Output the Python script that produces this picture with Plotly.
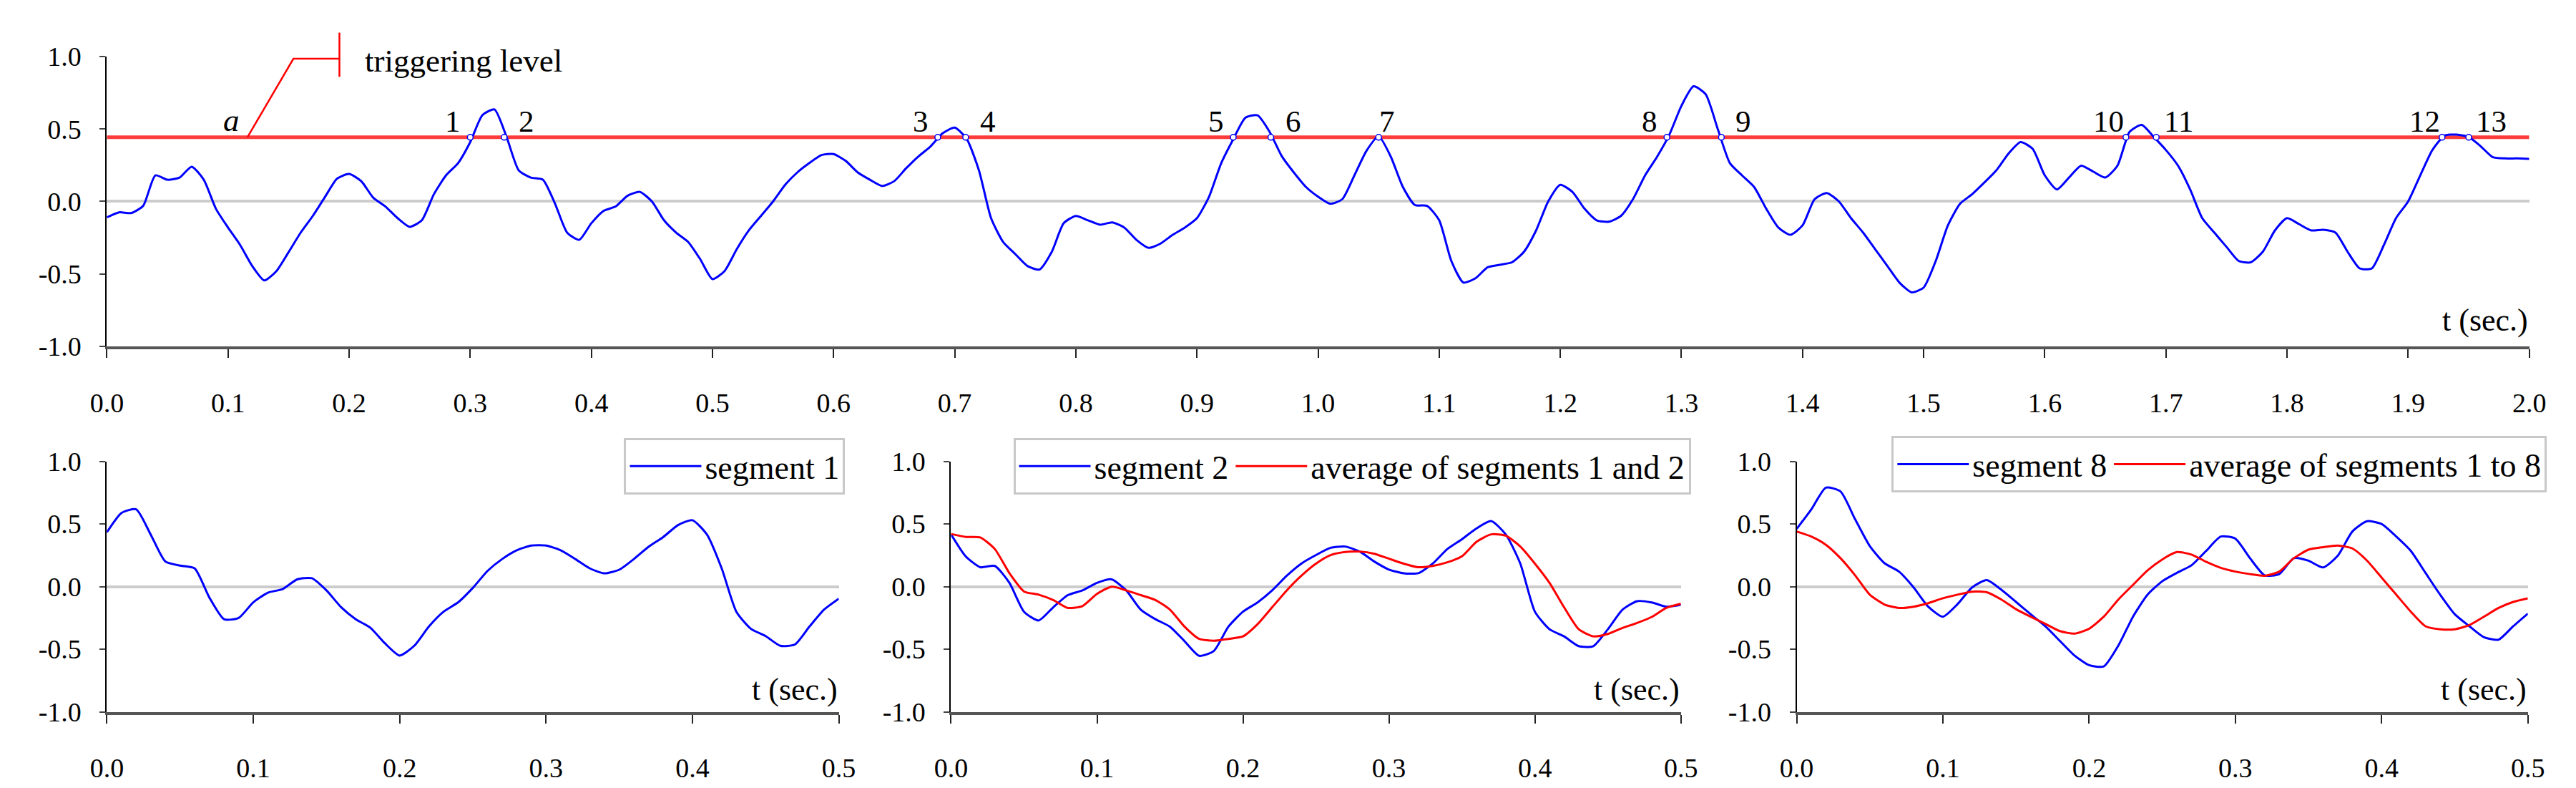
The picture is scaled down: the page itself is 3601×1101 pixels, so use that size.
import plotly.graph_objects as go

# ---- data ----
t_main = [round(i * 0.01, 2) for i in range(201)]
signal = [
    -0.11, -0.075, -0.08, -0.03, 0.18, 0.15, 0.165, 0.24, 0.15, -0.05,
    -0.18, -0.30, -0.445, -0.545, -0.48, -0.35, -0.215, -0.10, 0.03, 0.157,
    0.19, 0.14, 0.025, -0.035, -0.115, -0.175, -0.13, 0.05, 0.18, 0.265,
    0.41, 0.595, 0.635, 0.445, 0.215, 0.165, 0.15, -0.015, -0.215, -0.265,
    -0.15, -0.065, -0.035, 0.04, 0.066, 0.0, -0.13, -0.215, -0.28, -0.40,
    -0.536, -0.48, -0.33, -0.20, -0.10, 0.0, 0.115, 0.20, 0.265, 0.32,
    0.327, 0.28, 0.20, 0.15, 0.107, 0.14, 0.23, 0.31, 0.38, 0.47,
    0.51, 0.43, 0.215, -0.115, -0.28, -0.363, -0.445, -0.47, -0.35, -0.15,
    -0.10, -0.13, -0.16, -0.145, -0.18, -0.265, -0.32, -0.29, -0.23, -0.18,
    -0.115, 0.033, 0.264, 0.43, 0.578, 0.594, 0.48, 0.313, 0.20, 0.10,
    0.033, -0.016, 0.016, 0.18, 0.35, 0.45, 0.31, 0.10, -0.025, -0.03,
    -0.13, -0.41, -0.56, -0.53, -0.454, -0.437, -0.42, -0.347, -0.20, 0.0,
    0.115, 0.066, -0.05, -0.13, -0.14, -0.10, 0.016, 0.18, 0.31, 0.46,
    0.66, 0.795, 0.74, 0.50, 0.265, 0.18, 0.10, -0.05, -0.18, -0.23,
    -0.165, 0.016, 0.058, 0.0, -0.115, -0.215, -0.33, -0.445, -0.56, -0.627,
    -0.594, -0.41, -0.165, -0.016, 0.05, 0.13, 0.215, 0.33, 0.41, 0.363,
    0.18, 0.083, 0.165, 0.247, 0.206, 0.165, 0.247, 0.48, 0.528, 0.445,
    0.355, 0.247, 0.083, -0.115, -0.215, -0.313, -0.41, -0.42, -0.347, -0.20,
    -0.115, -0.157, -0.20, -0.195, -0.215, -0.347, -0.462, -0.462, -0.30, -0.115,
    0.0, 0.18, 0.355, 0.454, 0.462, 0.445, 0.38, 0.305, 0.297, 0.297,
    0.294,
]
trigger_level = 0.443
cross_t = [0.300, 0.328, 0.686, 0.709, 0.930, 0.961, 1.050,
           1.288, 1.333, 1.667, 1.692, 1.928, 1.950]
cross_labels = [str(i) for i in range(1, 14)]
cross_dir = ['up', 'down', 'up', 'down', 'up', 'down', 'peak',
             'up', 'down', 'up', 'down', 'up', 'down']

t_seg = [round(i * 0.01, 2) for i in range(51)]
segment1 = [
    0.434, 0.588, 0.617, 0.414, 0.20, 0.168, 0.145, -0.087, -0.26, -0.25,
    -0.125, -0.048, -0.02, 0.058, 0.067, -0.03, -0.164, -0.26, -0.328, -0.453,
    -0.55, -0.472, -0.318, -0.20, -0.125, -0.01, 0.125, 0.22, 0.29, 0.328,
    0.328, 0.29, 0.22, 0.145, 0.106, 0.135, 0.22, 0.318, 0.395, 0.49,
    0.53, 0.414, 0.145, -0.20, -0.337, -0.395, -0.472, -0.462, -0.318, -0.183,
    -0.096,
]
segment2 = [
    0.417, 0.242, 0.155, 0.165, 0.03, -0.20, -0.27, -0.165, -0.068, -0.03,
    0.03, 0.058, -0.03, -0.184, -0.26, -0.32, -0.436, -0.552, -0.514, -0.32,
    -0.20, -0.126, -0.03, 0.087, 0.184, 0.252, 0.31, 0.32, 0.28, 0.20,
    0.136, 0.107, 0.107, 0.184, 0.30, 0.378, 0.465, 0.523, 0.417, 0.184,
    -0.20, -0.34, -0.397, -0.475, -0.475, -0.34, -0.184, -0.116, -0.126, -0.16,
    -0.145,
]
avg_1_2 = [
    0.42, 0.397, 0.393, 0.30, 0.107, -0.039, -0.064, -0.107, -0.17, -0.155,
    -0.058, 0.0, -0.03, -0.068, -0.107, -0.184, -0.32, -0.417, -0.432, -0.417,
    -0.397, -0.30, -0.165, -0.03, 0.087, 0.184, 0.252, 0.277, 0.28, 0.262,
    0.223, 0.184, 0.155, 0.165, 0.194, 0.242, 0.358, 0.417, 0.407, 0.32,
    0.184, 0.03, -0.165, -0.34, -0.397, -0.378, -0.33, -0.29, -0.242, -0.17,
    -0.136,
]
segment8 = [
    0.46, 0.615, 0.79, 0.76, 0.538, 0.324, 0.188, 0.12, -0.006, -0.16,
    -0.24, -0.14, -0.006, 0.052, -0.025, -0.122, -0.22, -0.316, -0.433, -0.55,
    -0.627, -0.637, -0.47, -0.24, -0.064, 0.043, 0.11, 0.17, 0.285, 0.40,
    0.383, 0.227, 0.09, 0.10, 0.227, 0.207, 0.153, 0.246, 0.44, 0.522,
    0.50, 0.40, 0.285, 0.11, -0.064, -0.22, -0.316, -0.404, -0.423, -0.316,
    -0.215,
]
avg_1_8 = [
    0.44, 0.40, 0.334, 0.227, 0.09, -0.064, -0.142, -0.17, -0.16, -0.132,
    -0.093, -0.064, -0.04, -0.045, -0.103, -0.18, -0.24, -0.297, -0.355, -0.375,
    -0.336, -0.24, -0.103, 0.014, 0.13, 0.217, 0.276, 0.256, 0.198, 0.15,
    0.12, 0.10, 0.087, 0.12, 0.227, 0.295, 0.315, 0.328, 0.305, 0.208,
    0.072, -0.064, -0.20, -0.316, -0.34, -0.34, -0.307, -0.24, -0.17, -0.122,
    -0.093,
]

y_ticks = [-1.0, -0.5, 0.0, 0.5, 1.0]
y_ticktext = ['-1.0', '-0.5', '0.0', '0.5', '1.0']
x_ticks_main = [round(i * 0.1, 1) for i in range(21)]
x_ticks_seg = [round(i * 0.1, 1) for i in range(6)]

# ---- layout geometry (pixels of a 3601 x 1101 page) ----
W, H = 3601, 1101
FONT = '"Liberation Serif", "Times New Roman", Tinos, "DejaVu Serif", serif'
BLUE = '#0000ff'
RED = '#ff0000'


def xdom(a, b):
    return [a / W, b / W]


def ydom(top, bottom):
    return [1 - bottom / H, 1 - top / H]


dom_top = (xdom(119, 3551), ydom(52, 473))
dom_b = [
    (xdom(119, 1156), ydom(640, 1004)),
    (xdom(1315, 2349), ydom(640, 1004)),
    (xdom(2513, 3549), ydom(640, 1004)),
]

fig = go.Figure()

fig.add_trace(go.Scatter(
    x=[0, 2], y=[trigger_level, trigger_level], mode='lines',
    line=dict(color='#ff3b3b', width=5), showlegend=False,
    xaxis='x', yaxis='y', hoverinfo='skip'))
fig.add_trace(go.Scatter(
    x=t_main, y=signal, mode='lines',
    line=dict(color=BLUE, width=3, shape='spline', smoothing=0.6),
    showlegend=False, xaxis='x', yaxis='y'))
fig.add_trace(go.Scatter(
    x=cross_t, y=[trigger_level] * len(cross_t), mode='markers',
    marker=dict(symbol='circle', size=8, color='white',
                line=dict(color=BLUE, width=1.5)),
    showlegend=False, xaxis='x', yaxis='y'))

bottom_series = [
    [('segment 1', segment1, BLUE)],
    [('segment 2', segment2, BLUE), ('average of segments 1 and 2', avg_1_2, RED)],
    [('segment 8', segment8, BLUE), ('average of segments 1 to 8', avg_1_8, RED)],
]
legend_ids = ['legend', 'legend2', 'legend3']
for k, series in enumerate(bottom_series):
    for name, vals, col in series:
        fig.add_trace(go.Scatter(
            x=t_seg, y=vals, mode='lines', name=name,
            line=dict(color=col, width=3, shape='spline', smoothing=0.6),
            xaxis='x%d' % (k + 2), yaxis='y%d' % (k + 2),
            legend=legend_ids[k]))

tickfont = dict(family=FONT, size=38, color='black')
xcommon = dict(showgrid=False, zeroline=False, showline=True,
               linecolor='#555555', linewidth=4, ticks='outside',
               ticklen=12, tickwidth=2, tickcolor='#222222',
               tickfont=tickfont, ticklabelstandoff=30)
ycommon = dict(showgrid=False, zeroline=True, zerolinecolor='#cccccc',
               zerolinewidth=4, showline=True, linecolor='black',
               linewidth=2, ticks='outside', ticklen=8, tickwidth=2,
               tickcolor='#444444', tickfont=tickfont,
               ticklabelstandoff=18, range=[-1, 1],
               tickvals=y_ticks, ticktext=y_ticktext)

layout = dict(
    width=W, height=H, margin=dict(l=0, r=0, t=0, b=0),
    plot_bgcolor='white', paper_bgcolor='white',
    font=dict(family=FONT, color='black'),
    xaxis=dict(domain=dom_top[0], range=[0, 2], anchor='y',
               tickvals=x_ticks_main,
               ticktext=['%.1f' % v for v in x_ticks_main], **xcommon),
    yaxis=dict(domain=dom_top[1], anchor='x', **ycommon),
)
for k, (dx, dy) in enumerate(dom_b):
    layout['xaxis%d' % (k + 2)] = dict(
        domain=dx, range=[0, 0.5], anchor='y%d' % (k + 2),
        tickvals=x_ticks_seg,
        ticktext=['%.1f' % v for v in x_ticks_seg], **xcommon)
    layout['yaxis%d' % (k + 2)] = dict(
        domain=dy, anchor='x%d' % (k + 2), **ycommon)

legend_pos = [(1165, 606), (2363, 606), (3576, 603)]
for k, (rx, ty) in enumerate(legend_pos):
    layout[legend_ids[k]] = dict(
        x=rx / W, y=1 - ty / H, xanchor='right', yanchor='top',
        orientation='h', bgcolor='white', bordercolor='#c8c8c8',
        borderwidth=3, font=dict(family=FONT, size=46, color='black'),
        itemwidth=100, tracegroupgap=0)
fig.update_layout(**layout)


def to_paper(x, y):
    (x0, x1), (y0, y1) = dom_top
    return x0 + x / 2 * (x1 - x0), y0 + (y + 1) / 2 * (y1 - y0)


# callout for the triggering level
p1 = to_paper(0.116, trigger_level)
p2 = to_paper(0.154, 0.985)
p3 = to_paper(0.192, 0.985)
q1 = to_paper(0.192, 1.165)
q2 = to_paper(0.192, 0.86)
fig.add_shape(type='path', xref='paper', yref='paper',
              path='M %f,%f L %f,%f L %f,%f' % (p1 + p2 + p3),
              line=dict(color=RED, width=2.5))
fig.add_shape(type='line', xref='paper', yref='paper',
              x0=q1[0], y0=q1[1], x1=q2[0], y1=q2[1],
              line=dict(color=RED, width=2.5))
fig.add_annotation(x=0.2115, y=0.97, xref='x', yref='y', text='triggering level',
                   showarrow=False, xanchor='left', yanchor='middle',
                   font=dict(family=FONT, size=45))
fig.add_annotation(x=0.1026, y=0.56, xref='x', yref='y', text='<i>a</i>',
                   showarrow=False, xanchor='center', yanchor='middle',
                   font=dict(family=FONT, size=45))

shift = {'up': -24, 'down': 31, 'peak': 12}
for tc, lab, d in zip(cross_t, cross_labels, cross_dir):
    fig.add_annotation(x=tc, y=0.555, xref='x', yref='y', text=lab,
                       showarrow=False, xanchor='center', yanchor='middle',
                       xshift=shift[d], font=dict(family=FONT, size=43))

for xr, yr, xe in [('x', 'y', 2.0), ('x2', 'y2', 0.5),
                   ('x3', 'y3', 0.5), ('x4', 'y4', 0.5)]:
    fig.add_annotation(x=xe, y=-0.82, xref=xr, yref=yr, text='t (sec.)',
                       showarrow=False, xanchor='right', yanchor='middle',
                       font=dict(family=FONT, size=44))

fig.write_html('out.html')
